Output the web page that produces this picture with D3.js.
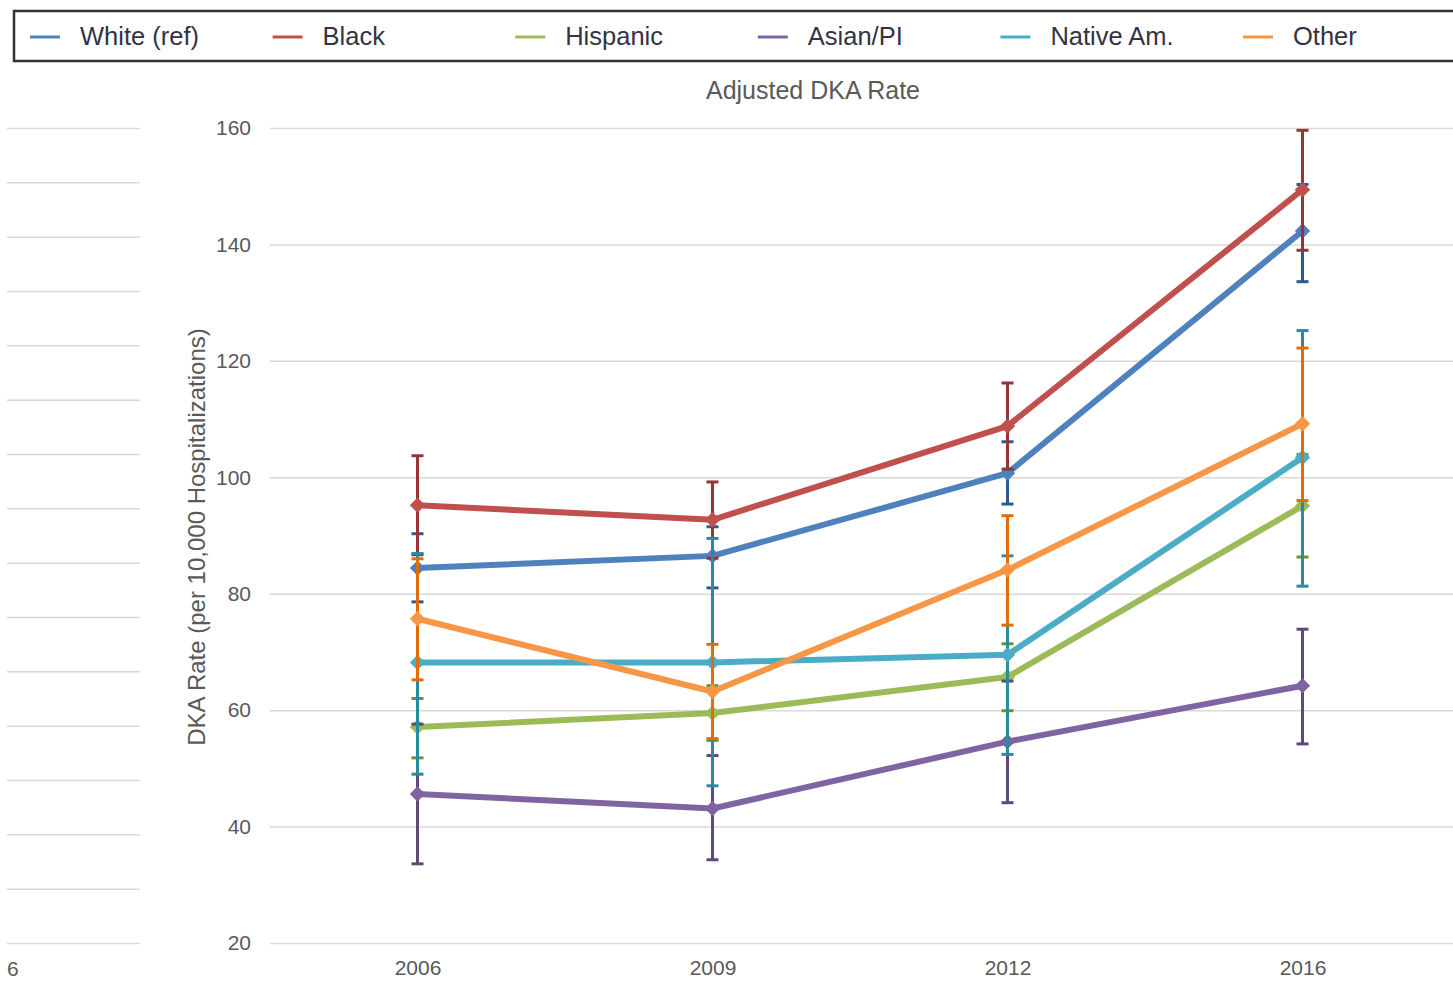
<!DOCTYPE html>
<html>
<head>
<meta charset="utf-8">
<script src="https://cdn.jsdelivr.net/npm/d3@7"></script>
<style>
  html, body { margin: 0; padding: 0; background: #fff; }
  svg { display: block; font-family: "Liberation Sans", Arial, sans-serif; }
</style>
</head>
<body>
<svg id="chart" width="1453" height="987"></svg>
<script>
// Survey years
const years = ["2006", "2009", "2012", "2016"];

// Adjusted DKA rate (per 10,000 hospitalizations) with 95% CI bounds
const whiteRate = [84.4, 86.5, 100.7, 142.3];
const whiteLow  = [78.6, 81.0, 95.4, 133.6];
const whiteHigh = [90.3, 91.5, 106.1, 150.3];

const blackRate = [95.2, 92.7, 108.8, 149.4];
const blackLow  = [86.7, 86.1, 101.4, 139.0];
const blackHigh = [103.7, 99.2, 116.2, 159.6];

const hispanicRate = [57.1, 59.5, 65.7, 95.1];
const hispanicLow  = [51.8, 54.8, 59.9, 86.3];
const hispanicHigh = [62.0, 64.2, 71.4, 103.9];

const asianRate = [45.6, 43.1, 54.6, 64.2];
const asianLow  = [33.6, 34.3, 44.1, 54.2];
const asianHigh = [57.6, 52.2, 65.0, 73.9];

const nativeRate = [68.2, 68.2, 69.5, 103.4];
const nativeLow  = [49.0, 47.0, 52.4, 81.3];
const nativeHigh = [86.9, 89.5, 86.5, 125.2];

const otherRate = [75.7, 63.2, 84.1, 109.2];
const otherLow  = [65.2, 55.1, 74.6, 96.0];
const otherHigh = [86.0, 71.3, 93.4, 122.2];

const seriesNames = ["White (ref)", "Black", "Hispanic", "Asian/PI", "Native Am.", "Other"];
const yTicks = [20, 40, 60, 80, 100, 120, 140, 160];
// gridlines of the neighbouring panel at the far left
const sidePanelTicks = [0, 1, 2, 3, 4, 5, 6, 7, 8, 9, 10, 11, 12, 13, 14, 15];

const lineColors = ["#4f81bd", "#c0504d", "#9bbb59", "#8064a2", "#4bacc6", "#f79646"];
const barColors  = ["#2c5b8f", "#943634", "#6f8f35", "#5f497a", "#2a8b9f", "#e36c0a"];

const series = [
  { name: seriesNames[0], rate: whiteRate,    low: whiteLow,    high: whiteHigh },
  { name: seriesNames[1], rate: blackRate,    low: blackLow,    high: blackHigh },
  { name: seriesNames[2], rate: hispanicRate, low: hispanicLow, high: hispanicHigh },
  { name: seriesNames[3], rate: asianRate,    low: asianLow,    high: asianHigh },
  { name: seriesNames[4], rate: nativeRate,   low: nativeLow,   high: nativeHigh },
  { name: seriesNames[5], rate: otherRate,    low: otherLow,    high: otherHigh }
];

const svg = d3.select("#chart");

const x = d3.scalePoint().domain(years).range([270, 1450]).padding(0.5);
const y = d3.scaleLinear().domain([20, 160]).range([943, 128]);

// Neighbouring panel gridlines (left edge)
const ySide = d3.scaleLinear().domain([0, 15]).range([943, 128]);
svg.append("g")
  .attr("transform", "translate(7,0)")
  .call(d3.axisRight(ySide).tickValues(sidePanelTicks).tickSize(133).tickFormat(""))
  .call(g => g.select(".domain").remove())
  .call(g => g.selectAll(".tick line").attr("stroke", "#d9d9d9").attr("stroke-width", 1.5));
svg.append("text")
  .attr("x", 7).attr("y", 976)
  .attr("font-size", 21).attr("fill", "#595959")
  .text("6");

// Horizontal gridlines
svg.append("g")
  .attr("transform", "translate(270,0)")
  .call(d3.axisRight(y).tickValues(yTicks).tickSize(1183).tickFormat(""))
  .call(g => g.select(".domain").remove())
  .call(g => g.selectAll(".tick line").attr("stroke", "#d9d9d9").attr("stroke-width", 1.5));

// Y axis labels
svg.append("g")
  .attr("transform", "translate(270,0)")
  .call(d3.axisLeft(y).tickValues(yTicks).tickSize(0).tickPadding(19))
  .call(g => g.select(".domain").remove())
  .call(g => g.selectAll("text")
    .attr("font-size", 21).attr("fill", "#595959")
    .attr("font-family", "'Liberation Sans', Arial, sans-serif"));

// X axis labels
svg.append("g")
  .attr("transform", "translate(0,943)")
  .call(d3.axisBottom(x).tickSize(0).tickPadding(17))
  .call(g => g.select(".domain").remove())
  .call(g => g.selectAll("text")
    .attr("font-size", 21).attr("fill", "#595959")
    .attr("font-family", "'Liberation Sans', Arial, sans-serif"));

// Y axis title
svg.append("text")
  .attr("transform", "translate(205,537) rotate(-90)")
  .attr("text-anchor", "middle")
  .attr("font-size", 24).attr("fill", "#595959")
  .text("DKA Rate (per 10,000 Hospitalizations)");

// Chart title
svg.append("text")
  .attr("x", 813).attr("y", 99)
  .attr("text-anchor", "middle")
  .attr("font-size", 25).attr("fill", "#595959")
  .text("Adjusted DKA Rate");

// Series: error bars then line with diamond markers
const line = d3.line()
  .x((d, i) => x(years[i]))
  .y(d => y(d));

const capHalf = 6;
series.forEach((s, si) => {
  const g = svg.append("g").attr("class", "series");
  const eb = g.append("g").attr("stroke", barColors[si]).attr("stroke-width", 3).attr("fill", "none");
  years.forEach((yr, i) => {
    const cx = x(yr);
    eb.append("line").attr("x1", cx).attr("x2", cx).attr("y1", y(s.low[i])).attr("y2", y(s.high[i]));
    eb.append("line").attr("x1", cx - capHalf).attr("x2", cx + capHalf).attr("y1", y(s.low[i])).attr("y2", y(s.low[i]));
    eb.append("line").attr("x1", cx - capHalf).attr("x2", cx + capHalf).attr("y1", y(s.high[i])).attr("y2", y(s.high[i]));
  });
  g.append("path")
    .datum(s.rate)
    .attr("d", line)
    .attr("fill", "none")
    .attr("stroke", lineColors[si])
    .attr("stroke-width", 6)
    .attr("stroke-linejoin", "round");
  g.selectAll("path.marker")
    .data(s.rate)
    .join("path")
    .attr("class", "marker")
    .attr("d", d3.symbol(d3.symbolDiamond2, 150)())
    .attr("transform", (d, i) => `translate(${x(years[i])},${y(d)})`)
    .attr("fill", lineColors[si]);
});

// Legend
const legend = svg.append("g");
legend.append("rect")
  .attr("x", 14).attr("y", 11)
  .attr("width", 1460).attr("height", 50)
  .attr("fill", "none").attr("stroke", "#333").attr("stroke-width", 2.5);
const legendX = d3.scalePoint().domain(seriesNames).range([30, 1243]);
const items = legend.selectAll("g.item")
  .data(seriesNames)
  .join("g")
  .attr("class", "item")
  .attr("transform", d => `translate(${legendX(d)},37)`);
items.append("line")
  .attr("x1", 0).attr("x2", 30)
  .attr("stroke", (d, i) => lineColors[i]).attr("stroke-width", 3);
items.append("text")
  .attr("x", 50).attr("y", 8)
  .attr("font-size", 25.5).attr("fill", "#333344")
  .text(d => d);
</script>
</body>
</html>
